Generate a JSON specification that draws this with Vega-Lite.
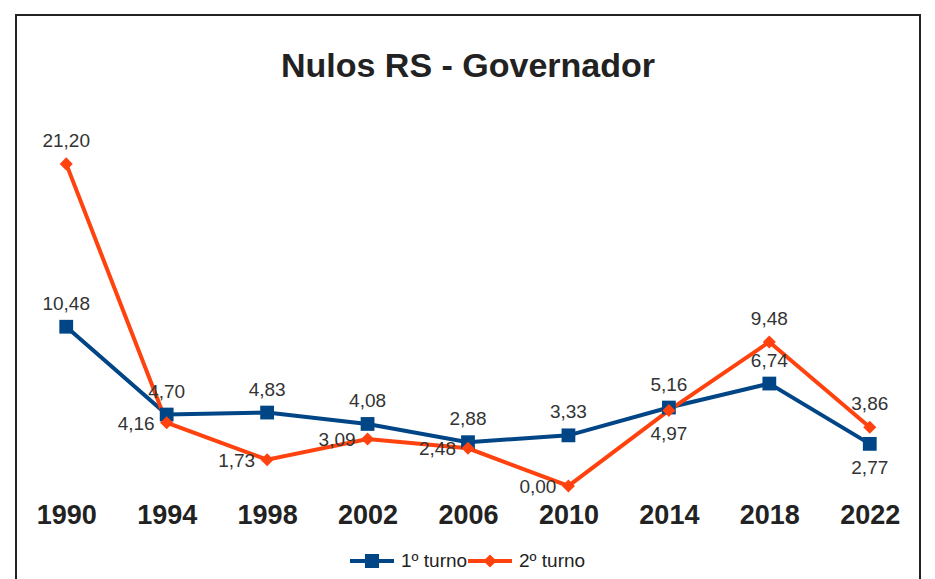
{
  "$schema": "https://vega.github.io/schema/vega-lite/v6.json",
  "autosize": {"type": "none"},
  "padding": {"left": 16, "top": 15, "right": 15, "bottom": 0},
  "width": 904,
  "height": 575,
  "background": "white",
  "title": {
    "text": "Nulos RS - Governador",
    "font": "Liberation Sans",
    "fontSize": 34,
    "fontWeight": "bold",
    "color": "#222222",
    "anchor": "middle",
    "frame": "group",
    "baseline": "alphabetic",
    "offset": -96
  },
  "config": {
    "view": {"stroke": "#222222", "strokeWidth": 2},
    "locale": {"number": {"decimal": ",", "thousands": ".", "grouping": [3], "currency": ["R$", ""]}}
  },
  "data": {
    "values": [
      {"ano": 1990, "serie": "1º turno", "valor": 10.48},
      {"ano": 1994, "serie": "1º turno", "valor": 4.70},
      {"ano": 1998, "serie": "1º turno", "valor": 4.83},
      {"ano": 2002, "serie": "1º turno", "valor": 4.08},
      {"ano": 2006, "serie": "1º turno", "valor": 2.88},
      {"ano": 2010, "serie": "1º turno", "valor": 3.33},
      {"ano": 2014, "serie": "1º turno", "valor": 5.16},
      {"ano": 2018, "serie": "1º turno", "valor": 6.74},
      {"ano": 2022, "serie": "1º turno", "valor": 2.77},
      {"ano": 1990, "serie": "2º turno", "valor": 21.20},
      {"ano": 1994, "serie": "2º turno", "valor": 4.16},
      {"ano": 1998, "serie": "2º turno", "valor": 1.73},
      {"ano": 2002, "serie": "2º turno", "valor": 3.09},
      {"ano": 2006, "serie": "2º turno", "valor": 2.48},
      {"ano": 2010, "serie": "2º turno", "valor": 0.00},
      {"ano": 2014, "serie": "2º turno", "valor": 4.97},
      {"ano": 2018, "serie": "2º turno", "valor": 9.48},
      {"ano": 2022, "serie": "2º turno", "valor": 3.86}
    ]
  },
  "encoding": {
    "x": {
      "field": "ano",
      "type": "ordinal",
      "scale": {"type": "point", "padding": 0.5},
      "axis": {
        "title": null,
        "labelAngle": 0,
        "labelFont": "Liberation Sans",
        "labelFontWeight": "bold",
        "labelFontSize": 27,
        "labelColor": "#222222",
        "domain": false,
        "ticks": false,
        "tickSize": 0,
        "grid": false,
        "labelPadding": 0,
        "offset": -88
      }
    },
    "y": {
      "field": "valor",
      "type": "quantitative",
      "scale": {"domain": [-6.85, 31.0], "nice": false, "zero": false},
      "axis": null
    }
  },
  "layer": [
    {
      "mark": {"type": "point", "filled": true, "opacity": 0, "size": 1936},
      "encoding": {
        "color": {
          "field": "serie",
          "type": "nominal",
          "scale": {"domain": ["1º turno", "2º turno"], "range": ["#004586", "#ff420e"]},
          "legend": {
            "title": null,
            "orient": "none",
            "direction": "horizontal",
            "legendX": 334,
            "legendY": 524,
            "labelFont": "Liberation Sans",
            "labelFontSize": 19,
            "labelColor": "#222222",
            "labelOffset": 7,
            "columnPadding": 0,
            "symbolSize": 1936,
            "symbolOpacity": 1,
            "symbolStrokeWidth": 0
          }
        },
        "shape": {
          "field": "serie",
          "type": "nominal",
          "scale": {
            "domain": ["1º turno", "2º turno"],
            "range": [
              "M-1,-0.09H1V0.09H-1Z M-0.32,-0.32H0.32V0.32H-0.32Z",
              "M-1,-0.09H1V0.09H-1Z M0,-0.3L0.3,0L0,0.3L-0.3,0Z"
            ]
          },
          "legend": {
            "title": null,
            "orient": "none",
            "direction": "horizontal",
            "legendX": 334,
            "legendY": 524,
            "labelFont": "Liberation Sans",
            "labelFontSize": 19,
            "labelColor": "#222222",
            "labelOffset": 7,
            "columnPadding": 0,
            "symbolSize": 1936,
            "symbolOpacity": 1,
            "symbolStrokeWidth": 0
          }
        }
      }
    },
    {
      "mark": {"type": "line", "strokeWidth": 4},
      "encoding": {
        "color": {"field": "serie", "type": "nominal"}
      }
    },
    {
      "transform": [{"filter": "datum.serie === '1º turno'"}],
      "mark": {"type": "point", "filled": true, "opacity": 1, "size": 190, "shape": "square"},
      "encoding": {"color": {"field": "serie", "type": "nominal"}}
    },
    {
      "transform": [{"filter": "datum.serie === '2º turno'"}],
      "mark": {"type": "point", "filled": true, "opacity": 1, "size": 170, "shape": "diamond"},
      "encoding": {"color": {"field": "serie", "type": "nominal"}}
    },
    {
      "transform": [
        {"filter": "(datum.serie === '1º turno' && datum.ano !== 2022) || (datum.serie === '2º turno' && (datum.ano === 1990 || datum.ano === 2018 || datum.ano === 2022))"}
      ],
      "mark": {"type": "text", "font": "Liberation Sans", "fontSize": 19, "color": "#333333", "align": "center", "baseline": "middle", "dy": -23},
      "encoding": {"text": {"field": "valor", "type": "quantitative", "format": ".2f"}}
    },
    {
      "transform": [
        {"filter": "(datum.serie === '1º turno' && datum.ano === 2022) || (datum.serie === '2º turno' && datum.ano === 2014)"}
      ],
      "mark": {"type": "text", "font": "Liberation Sans", "fontSize": 19, "color": "#333333", "align": "center", "baseline": "middle", "dy": 24},
      "encoding": {"text": {"field": "valor", "type": "quantitative", "format": ".2f"}}
    },
    {
      "transform": [
        {"filter": "datum.serie === '2º turno' && datum.ano >= 1994 && datum.ano <= 2010"}
      ],
      "mark": {"type": "text", "font": "Liberation Sans", "fontSize": 19, "color": "#333333", "align": "right", "baseline": "middle", "dx": -12, "dy": 1},
      "encoding": {"text": {"field": "valor", "type": "quantitative", "format": ".2f"}}
    }
  ]
}
